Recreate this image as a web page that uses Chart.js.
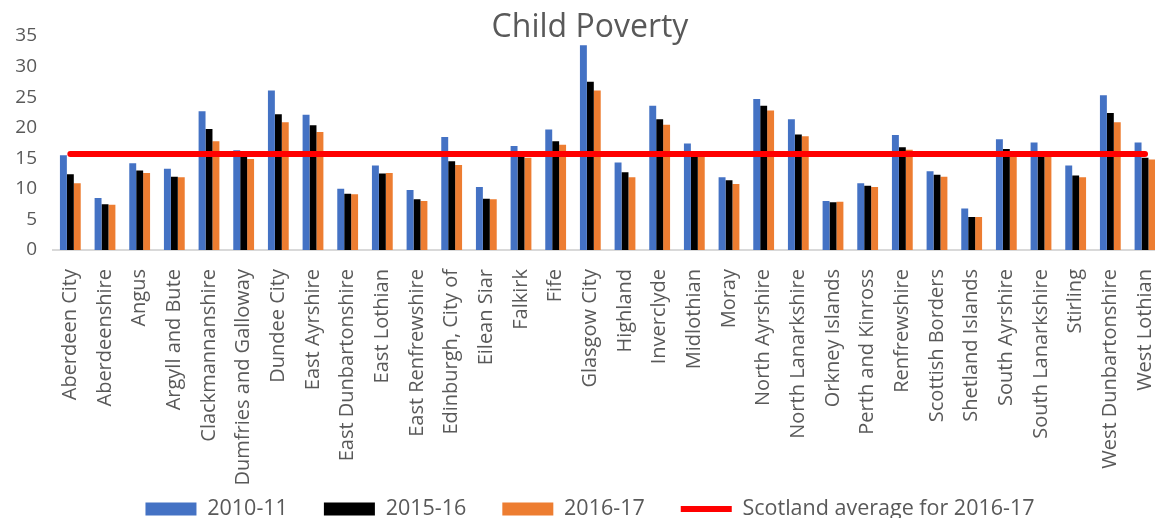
<!DOCTYPE html>
<html>
<head>
<meta charset="utf-8">
<script src="https://cdn.jsdelivr.net/npm/chart.js@4"></script>
<style>
  html, body { margin: 0; padding: 0; background: #fff; overflow: hidden; }
  #wrap { width: 1180px; height: 518px; }
</style>
</head>
<body>
<div id="wrap"><canvas id="povertyChart" width="1180" height="518"></canvas></div>
<script>
// council areas
const councils = [
    "Aberdeen City", "Aberdeenshire", "Angus", "Argyll and Bute", "Clackmannanshire",
    "Dumfries and Galloway", "Dundee City", "East Ayrshire", "East Dunbartonshire", "East Lothian",
    "East Renfrewshire", "Edinburgh, City of", "Eilean Siar", "Falkirk", "Fife", "Glasgow City",
    "Highland", "Inverclyde", "Midlothian", "Moray", "North Ayrshire", "North Lanarkshire",
    "Orkney Islands", "Perth and Kinross", "Renfrewshire", "Scottish Borders", "Shetland Islands",
    "South Ayrshire", "South Lanarkshire", "Stirling", "West Dunbartonshire", "West Lothian"
];

// child poverty, %
const poverty2010 = [15.5, 8.5, 14.2, 13.3, 22.7, 16.3, 26.1, 22.1, 10.0, 13.8, 9.8, 18.5, 10.3, 17.0, 19.7, 33.5,
    14.3, 23.6, 17.4, 11.9, 24.7, 21.4, 8.0, 10.9, 18.8, 12.9, 6.8, 18.1, 17.6, 13.8, 25.3, 17.6];
const poverty2015 = [12.4, 7.5, 13.0, 12.0, 19.8, 15.8, 22.2, 20.4, 9.2, 12.5, 8.3, 14.5, 8.4, 15.6, 17.8, 27.5,
    12.7, 21.4, 15.6, 11.4, 23.6, 18.9, 7.8, 10.5, 16.8, 12.3, 5.4, 16.5, 15.8, 12.2, 22.4, 15.1];
const poverty2016 = [10.9, 7.4, 12.6, 11.9, 17.8, 14.9, 20.9, 19.3, 9.1, 12.6, 8.0, 13.9, 8.3, 15.1, 17.2, 26.1,
    11.9, 20.5, 15.5, 10.8, 22.8, 18.6, 7.9, 10.3, 16.4, 12.0, 5.4, 15.7, 15.6, 11.9, 20.9, 14.8];
const scotlandAverage = [15.7, 15.7, 15.7, 15.7, 15.7, 15.7, 15.7, 15.7, 15.7, 15.7, 15.7, 15.7, 15.7, 15.7, 15.7, 15.7,
    15.7, 15.7, 15.7, 15.7, 15.7, 15.7, 15.7, 15.7, 15.7, 15.7, 15.7, 15.7, 15.7, 15.7, 15.7, 15.7];

const yTicks = [0, 5, 10, 15, 20, 25, 30, 35];

const grey = "#595959";

function barSet(label, data, colour) {
    return {
        type: "bar",
        label: label,
        data: data,
        backgroundColor: colour,
        borderWidth: 0,
        pointStyle: "rect",
        categoryPercentage: 0.6,
        barPercentage: 1.0,
        order: 1,
    };
}

// long council names run down into the legend strip, so don't clip them at the axis bottom
const unclipLabels = {
    id: "unclipLabels",
    afterLayout(chart) {
        chart.scales.x.bottom = chart.height;
    },
};

const ctx = document.getElementById("povertyChart").getContext("2d");
new Chart(ctx, {
    data: {
        labels: councils,
        datasets: [
            barSet("2010-11", poverty2010, "#4472C4"),
            barSet("2015-16", poverty2015, "#000000"),
            barSet("2016-17", poverty2016, "#ED7D31"),
            {
                type: "line",
                label: "Scotland average for 2016-17",
                data: scotlandAverage,
                borderColor: "#FF0000",
                backgroundColor: "#FF0000",
                borderWidth: 6,
                borderCapStyle: "round",
                pointRadius: 0,
                pointStyle: "line",
                order: 0, // keep the line above the bars
            },
        ],
    },
    options: {
        responsive: false,
        animation: false,
        layout: { padding: { top: 0, left: 0, right: 0, bottom: -11.75 } },
        plugins: {
            title: {
                display: true,
                text: "Child Poverty",
                color: grey,
                font: { family: "Open Sans", size: 32, weight: "normal" },
                padding: { top: 9, bottom: -11.4 },
            },
            legend: {
                position: "bottom",
                labels: {
                    usePointStyle: true,
                    pointStyleWidth: 51,
                    boxHeight: 13,
                    padding: 36,
                    color: grey,
                    font: { family: "Open Sans", size: 21.5 },
                    sort: (a, b) => a.datasetIndex - b.datasetIndex,
                },
            },
            tooltip: { enabled: false },
        },
        scales: {
            x: {
                afterFit: (axis) => { axis.height = 212.25; },
                grid: { display: false },
                border: { display: true, color: "#D9D9D9", width: 2 },
                ticks: {
                    autoSkip: false,
                    maxRotation: 90,
                    minRotation: 90,
                    color: grey,
                    padding: 11,
                    font: { family: "Open Sans", size: 20 },
                },
            },
            y: {
                min: 0,
                max: 35,
                afterFit: (axis) => { axis.width = 53; },
                afterBuildTicks: (axis) => { axis.ticks = yTicks.map((v) => ({ value: v })); },
                grid: { display: false },
                border: { display: false },
                ticks: {
                    color: grey,
                    padding: 8,
                    font: { family: "Open Sans", size: 19 },
                },
            },
        },
    },
    plugins: [unclipLabels],
});
</script>
</body>
</html>
